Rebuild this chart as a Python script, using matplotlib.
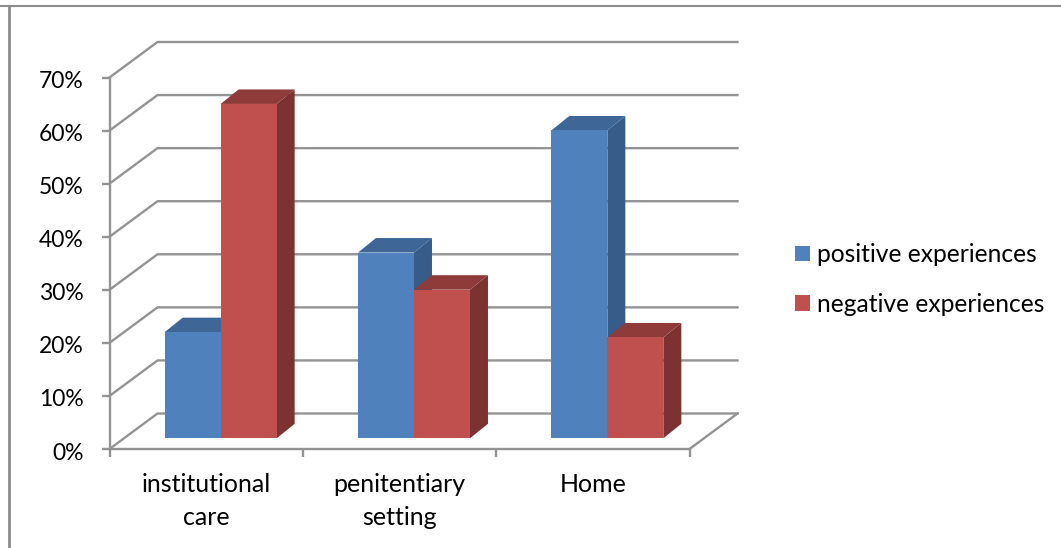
import matplotlib
matplotlib.use('Agg')
import matplotlib.pyplot as plt
from matplotlib.lines import Line2D
from matplotlib.patches import Polygon, Patch
from matplotlib.transforms import ScaledTranslation

categories = ['institutional\ncare', 'penitentiary\nsetting', 'Home']
positive = [0.20, 0.35, 0.58]
negative = [0.63, 0.28, 0.19]
series_names = ['positive experiences', 'negative experiences']
yticks = [0, 0.1, 0.2, 0.3, 0.4, 0.5, 0.6, 0.7]
ytick_labels = ['0%', '10%', '20%', '30%', '40%', '50%', '60%', '70%']

W, H = 1061, 548
plt.rcParams['font.family'] = ['Lato', 'DejaVu Sans']

fig = plt.figure(figsize=(W / 100, H / 100), dpi=100)
# only the top and left edges of the frame show in the picture
fig.add_artist(Line2D([0, 1], [1 - 5.5 / H, 1 - 5.5 / H], color='#8c8c8c', lw=1.5))
fig.add_artist(Line2D([9 / W, 9 / W], [0, 1 - 5.5 / H], color='#8c8c8c', lw=2))

ax = fig.add_axes([109.5 / W, 1 - 449 / H, 580 / W, 371.5 / H])
ax.set_xlim(0, 3)
ax.set_ylim(0, 0.7)

# pixels to data units
px_x = 3 / 580
px_y = 0.7 / 371.5
wall_dx, wall_dy = 48 * px_x, 35.5 * px_y
base_dx, base_dy = 14.5 * px_x, 10.7 * px_y
bar_dx, bar_dy = 18 * px_x, 14.5 * px_y
bar_w = 56 * px_x
grid_c = '#939393'

# back wall gridlines + floor
for v in yticks:
    ax.plot([0, wall_dx, 3 + wall_dx], [v, v + wall_dy, v + wall_dy],
            color=grid_c, lw=1.7, clip_on=False, zorder=1)
ax.plot([3, 3 + wall_dx], [0, wall_dy], color=grid_c, lw=1.7, clip_on=False, zorder=1)


def draw_bar(x, val, front, top, side, z):
    y0 = base_dy
    y1 = base_dy + val
    ax.bar(x, val, bar_w, bottom=y0, align='edge', color=front, zorder=z + 0.2, clip_on=False)
    ax.add_patch(Polygon([(x + bar_w, y0), (x + bar_w + bar_dx, y0 + bar_dy),
                          (x + bar_w + bar_dx, y1 + bar_dy), (x + bar_w, y1)],
                         facecolor=side, edgecolor='none', zorder=z, clip_on=False))
    ax.add_patch(Polygon([(x, y1), (x + bar_dx, y1 + bar_dy),
                          (x + bar_w + bar_dx, y1 + bar_dy), (x + bar_w, y1)],
                         facecolor=top, edgecolor='none', zorder=z + 0.1, clip_on=False))


for i in range(3):
    left = i + (193.3 - 2 * 56) / 2 * px_x + base_dx
    draw_bar(left, positive[i], '#4f81bd', '#3e6797', '#375c89', 2 + i)
    draw_bar(left + bar_w, negative[i], '#c0504d', '#8f3b39', '#7c3230', 2.5 + i)

for s in ['top', 'right']:
    ax.spines[s].set_visible(False)
for s in ['left', 'bottom']:
    ax.spines[s].set_color(grid_c)
    ax.spines[s].set_linewidth(1.7)
    ax.spines[s].set_zorder(10)

ax.set_yticks(yticks)
ax.set_yticklabels(ytick_labels)
ax.set_xticks([0, 1, 2, 3])
ax.set_xticklabels([])
ax.set_xticks([0.5, 1.5, 2.5], minor=True)
ax.set_xticklabels(categories, minor=True, linespacing=1.56)
ax.tick_params(axis='x', which='major', length=5.5, width=1.7, color=grid_c)
ax.tick_params(axis='x', which='minor', length=0, pad=17, labelsize=18, labelcolor='black')
ax.tick_params(axis='y', length=5.5, width=1.7, color=grid_c, pad=13, labelsize=16.5)

# y labels sit a little under their ticks
down = ScaledTranslation(0, -2 / 100, fig.dpi_scale_trans)
for lab in ax.get_yticklabels():
    lab.set_transform(lab.get_transform() + down)

handles = [Patch(facecolor='#4f81bd'), Patch(facecolor='#c0504d')]
fig.legend(handles, series_names, loc='center left', bbox_to_anchor=(795 / W, 1 - 279.5 / H),
           frameon=False, fontsize=17.75, handlelength=0.62, handleheight=0.62,
           handletextpad=0.29, labelspacing=1.08, borderpad=0, borderaxespad=0)

fig.savefig('out.png', dpi=100)
